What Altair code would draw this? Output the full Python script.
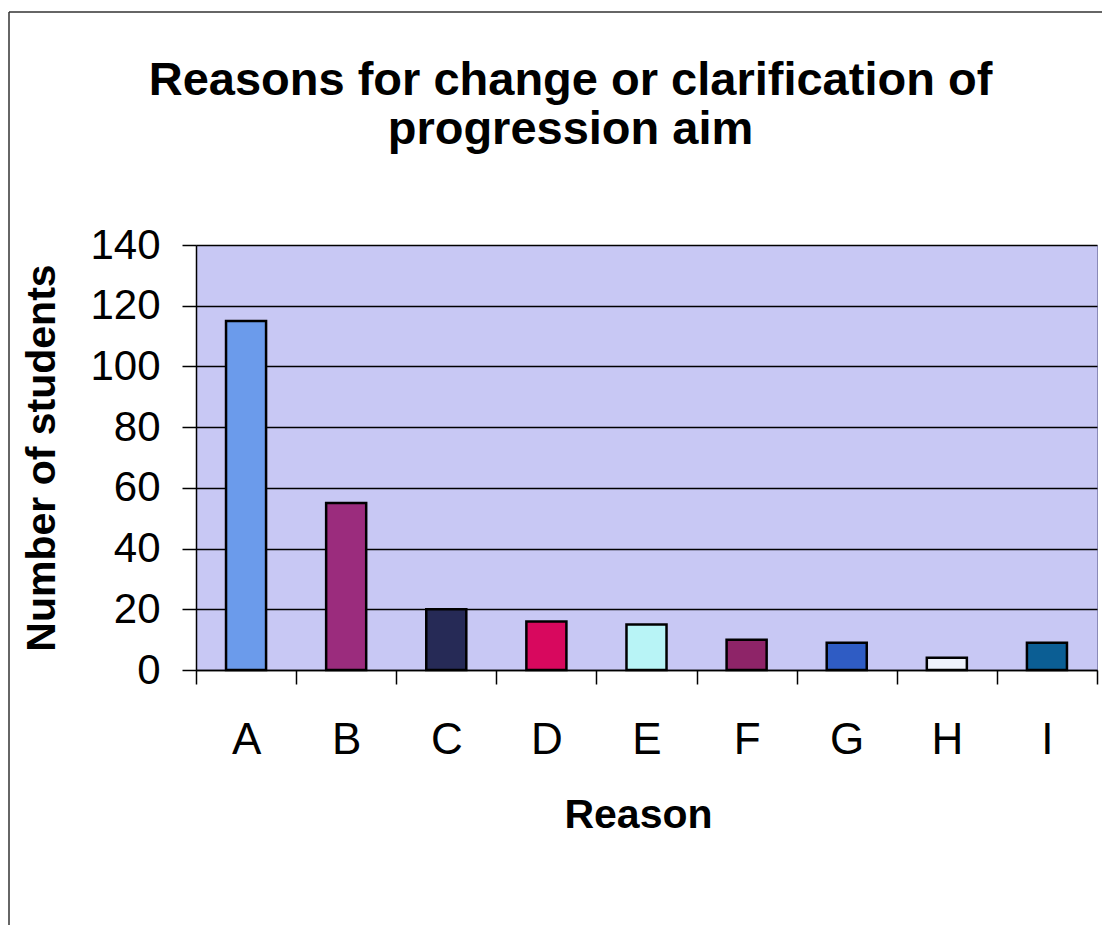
import altair as alt
import pandas as pd

reasons = ["A", "B", "C", "D", "E", "F", "G", "H", "I"]
students = [115, 55, 20, 16, 15, 10, 9, 4, 9]
bar_colors = ["#6B9BEB", "#9B2C7D", "#262A56", "#D8085E", "#B8F4F6",
              "#8E2468", "#2F5CC4", "#EEF2FC", "#0B5E94"]
y_ticks = [0, 20, 40, 60, 80, 100, 120, 140]

df = pd.DataFrame({"Reason": reasons, "Students": students})

FONT = "Liberation Sans"

bars = alt.Chart(df).mark_bar(
    width=alt.RelativeBandSize(0.4), stroke="black", strokeWidth=2.5
).encode(
    x=alt.X("Reason:N", sort=reasons,
            scale=alt.Scale(paddingInner=0, paddingOuter=0),
            axis=alt.Axis(labelAngle=0, labelFontSize=44, labelFont=FONT,
                          labelColor="black", labelPadding=69,
                          labelBaseline="alphabetic",
                          tickBand="extent", tickSize=14, tickColor="black",
                          tickWidth=1.5, domainColor="black", domainWidth=1.5,
                          grid=False, title="Reason", titleFont=FONT,
                          titleFontSize=41, titleFontWeight="bold",
                          titleColor="black", titleX=442, titleY=157,
                          titleAlign="center", titleBaseline="alphabetic")),
    y=alt.Y("Students:Q",
            scale=alt.Scale(domain=[0, 140], nice=False),
            axis=alt.Axis(values=y_ticks, labelFontSize=42, labelFont=FONT,
                          labelColor="black", labelPadding=22,
                          tickSize=14, tickColor="black", tickWidth=1.5,
                          domainColor="black", domainWidth=1.5,
                          grid=True, gridColor="black", gridWidth=1.3,
                          title="Number of students", titleFont=FONT,
                          titleFontSize=41, titleFontWeight="bold",
                          titleColor="black", titleAngle=270,
                          titleX=-154, titleY=212.5, titleAlign="center",
                          titleBaseline="middle")),
    color=alt.Color("Reason:N", sort=reasons,
                    scale=alt.Scale(domain=reasons, range=bar_colors),
                    legend=None),
)

frame = alt.Data(values=[{"k": 1}])
top_line = alt.Chart(frame).mark_rule(color="#333333", strokeWidth=1.5).encode(
    x=alt.value(-187), x2=alt.value(906), y=alt.value(-233))
left_line = alt.Chart(frame).mark_rule(color="#333333", strokeWidth=1.5).encode(
    x=alt.value(-187), y=alt.value(-233), y2=alt.value(685))

chart = alt.layer(bars, top_line, left_line).properties(
    width=901, height=425,
    autosize=alt.AutoSizeParams(type="none"),
    padding={"left": 188, "top": 237, "right": 5, "bottom": 255},
    title=alt.TitleParams(
        text=["Reasons for change or clarification of", "progression aim"],
        font=FONT, fontSize=47, fontWeight="bold", color="black",
        anchor="middle", dx=-76, offset=-143, lineHeight=49),
    background="white",
).configure_view(fill="#C8C8F4", stroke="#8A8AB8", strokeWidth=1)

chart.save("out.html", embed_options={"renderer": "svg", "actions": False})
